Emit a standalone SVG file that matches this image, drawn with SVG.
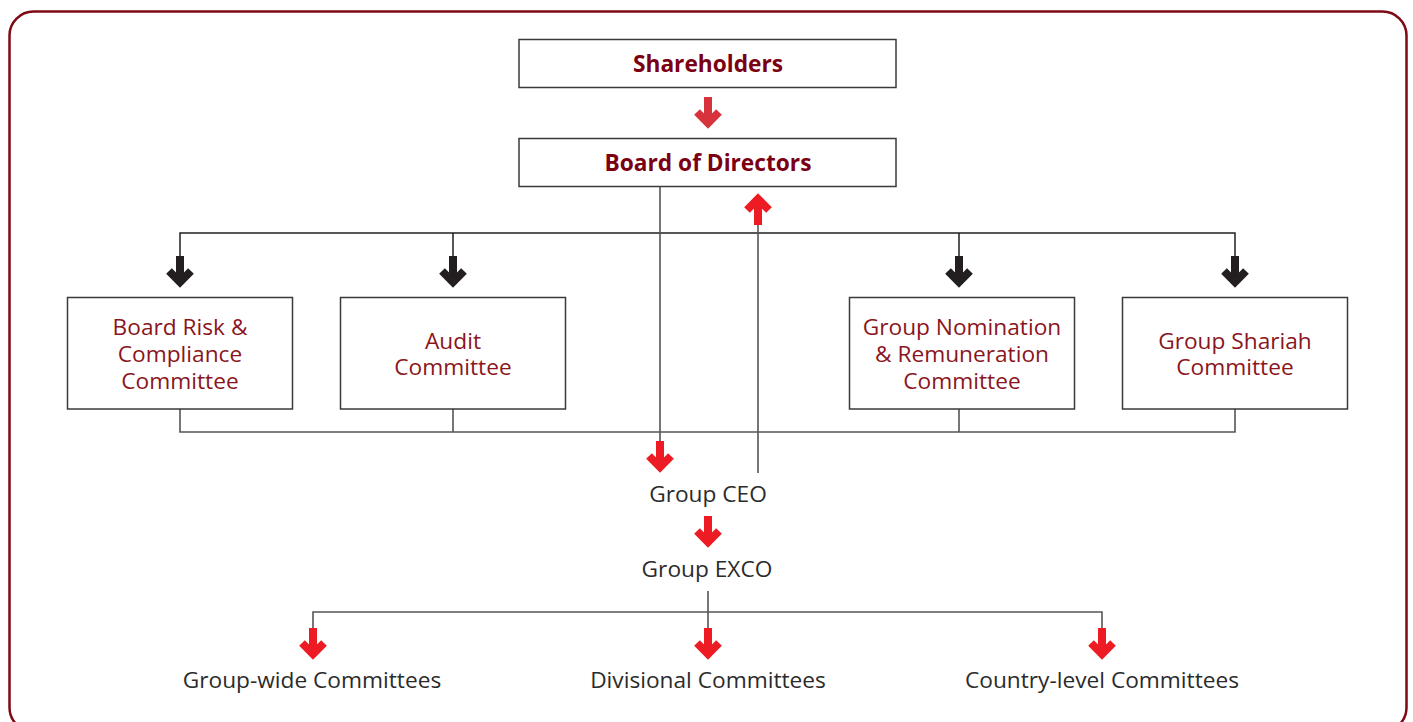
<svg xmlns="http://www.w3.org/2000/svg" xmlns:xlink="http://www.w3.org/1999/xlink" width="1413" height="722" viewBox="0 0 1413 722">
<style>
.frame{fill:#fff;stroke:#7d0a14;stroke-width:2.5}
.box{fill:#fff;stroke:#3a3a3a;stroke-width:1.5}
.ln{fill:none;stroke:#555;stroke-width:1.6}
.lnk{fill:none;stroke:#231f20;stroke-width:1.5}
.title{font-family:"Open Sans","Noto Sans",sans-serif;font-weight:bold;font-size:22.7px;fill:#7b0011;text-anchor:middle}
.btxt{font-family:"Open Sans","Noto Sans",sans-serif;font-size:22.7px;fill:#8a1520;text-anchor:middle}
.txt{font-family:"Open Sans","Noto Sans",sans-serif;font-size:22.7px;fill:#2b2b2b;text-anchor:middle}
.ar{fill:none;stroke:currentColor;stroke-width:8;stroke-linejoin:miter;stroke-miterlimit:4}
</style>
<defs>
<g id="arr">
<path class="ar" d="M0,-32 V-4"/>
<path class="ar" d="M-11,-17 L0,-6 L11,-17"/>
</g>
</defs>
<rect class="frame" x="9.5" y="11.5" width="1397" height="720" rx="24"/>
<g id="connectors">
<path class="lnk" d="M180,256 V233 H1235 V256 M453,233 V256 M959,233 V256"/>
<path class="ln" d="M180,409 V432 H1235 V409 M453,409 V432 M959,409 V432"/>
<path class="ln" d="M660,186 V442"/>
<path class="ln" d="M758,222 V473"/>
<path class="ln" d="M708,591 V612 M313,629 V612 H1102 V629 M708,612 V629"/>
<use href="#arr" xlink:href="#arr" transform="translate(708,129)" style="color:#d7333d"/>
<use href="#arr" xlink:href="#arr" transform="translate(758,193) rotate(180)" style="color:#ed1c24"/>
<use href="#arr" xlink:href="#arr" transform="translate(180,288)" style="color:#231f20"/>
<use href="#arr" xlink:href="#arr" transform="translate(453,288)" style="color:#231f20"/>
<use href="#arr" xlink:href="#arr" transform="translate(959,288)" style="color:#231f20"/>
<use href="#arr" xlink:href="#arr" transform="translate(1235,288)" style="color:#231f20"/>
<use href="#arr" xlink:href="#arr" transform="translate(660,473)" style="color:#ed1c24"/>
<use href="#arr" xlink:href="#arr" transform="translate(708,548)" style="color:#ed1c24"/>
<use href="#arr" xlink:href="#arr" transform="translate(313,660)" style="color:#ed1c24"/>
<use href="#arr" xlink:href="#arr" transform="translate(708,660)" style="color:#ed1c24"/>
<use href="#arr" xlink:href="#arr" transform="translate(1102,660)" style="color:#ed1c24"/>
</g>
<g id="shareholders">
<rect class="box" x="519" y="39.5" width="377" height="48"/>
<text class="title" x="708" y="72">Shareholders</text>
</g>
<g id="board">
<rect class="box" x="519" y="138.5" width="377" height="48"/>
<text class="title" x="708" y="171">Board of Directors</text>
</g>
<g id="brcc">
<rect class="box" x="67.5" y="297.5" width="225" height="111.5"/>
<text class="btxt" x="180" y="335"><tspan x="180">Board Risk &amp;</tspan><tspan x="180" dy="27">Compliance</tspan><tspan x="180" dy="27">Committee</tspan></text>
</g>
<g id="audit">
<rect class="box" x="340.5" y="297.5" width="225" height="111.5"/>
<text class="btxt" x="453" y="349"><tspan x="453">Audit</tspan><tspan x="453" dy="26">Committee</tspan></text>
</g>
<g id="gnrc">
<rect class="box" x="849.5" y="297.5" width="225" height="111.5"/>
<text class="btxt" x="962" y="335"><tspan x="962">Group Nomination</tspan><tspan x="962" dy="27">&amp; Remuneration</tspan><tspan x="962" dy="27">Committee</tspan></text>
</g>
<g id="gsc">
<rect class="box" x="1122.5" y="297.5" width="225" height="111.5"/>
<text class="btxt" x="1235" y="349"><tspan x="1235">Group Shariah</tspan><tspan x="1235" dy="26">Committee</tspan></text>
</g>
<g id="ceo"><text class="txt" x="708" y="502">Group CEO</text></g>
<g id="exco"><text class="txt" x="707" y="577">Group EXCO</text></g>
<g id="groupwide"><text class="txt" x="312" y="688">Group-wide Committees</text></g>
<g id="divisional"><text class="txt" x="708" y="688">Divisional Committees</text></g>
<g id="country"><text class="txt" x="1102" y="688">Country-level Committees</text></g>
</svg>
